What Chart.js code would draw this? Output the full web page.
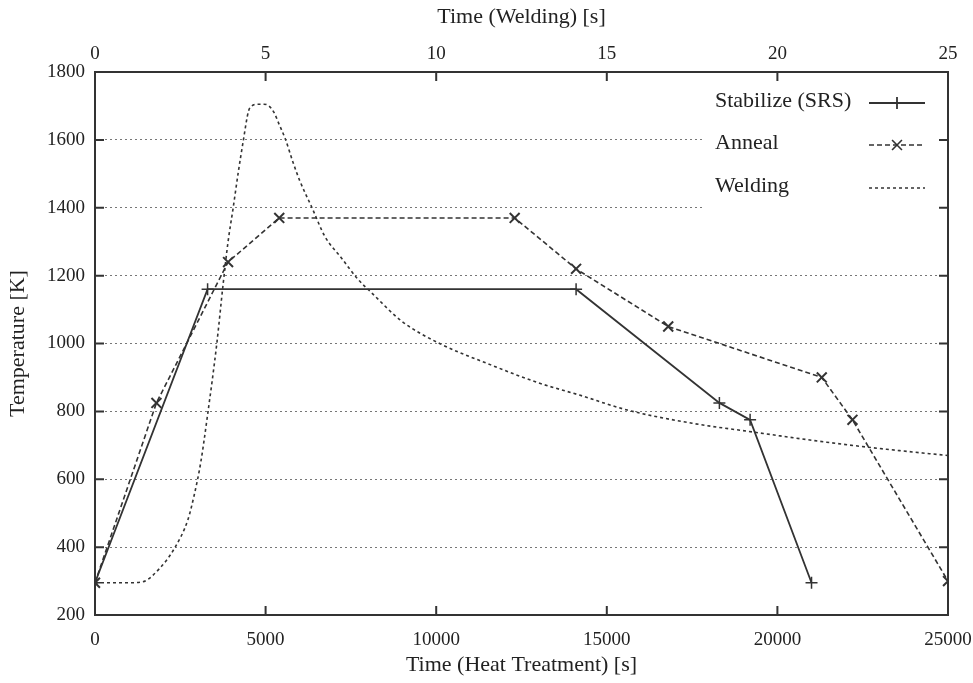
<!DOCTYPE html>
<html lang="en">
<head>
<meta charset="UTF-8">
<title>Temperature cycles</title>
<script src="https://cdn.jsdelivr.net/npm/chart.js"></script>
<style>
  html, body { margin: 0; padding: 0; background: #fff; }
</style>
</head>
<body>
<canvas id="tempChart" width="973" height="683"></canvas>
<script>
// Heat treatment cycles: time [s] on the lower axis, temperature [K]
const stabilizeTime = [0, 3300, 14100, 18300, 19200, 21000];
const stabilizeTemp = [295, 1160, 1160, 825, 775, 295];

const annealTime = [0, 1800, 3900, 5400, 12300, 14100, 16800, 21300, 22200, 25000];
const annealTemp = [295, 825, 1240, 1370, 1370, 1220, 1050, 900, 775, 300];

// Weld thermal cycle: time [s] on the upper axis
const weldTime = [0, 1.0, 1.4, 1.9, 2.35, 2.72, 2.9, 3.1, 3.3, 3.57, 3.75, 3.9, 4.05, 4.2, 4.35,
  4.5, 4.6, 4.75, 4.95, 5.1, 5.25, 5.4, 5.57, 5.8, 6.0, 6.36, 6.74, 7.2, 7.7, 8.1, 9.0,
  10.1, 11.6, 13.0, 14.2, 15.6, 17.5, 19.3, 21.0, 22.6, 24.0, 25.0];
const weldTemp = [295, 295, 298, 338, 400, 480, 550, 650, 790, 1000, 1170, 1300, 1400, 1505, 1600,
  1685, 1700, 1705, 1705, 1700, 1680, 1645, 1605, 1535, 1480, 1400, 1315, 1255, 1190, 1150, 1065,
  1000, 937, 884, 848, 804, 765, 739, 715, 695, 680, 670];

const heatTicks = [0, 5000, 10000, 15000, 20000, 25000];
const weldTicks = [0, 5, 10, 15, 20, 25];
const tempTicks = [200, 400, 600, 800, 1000, 1200, 1400, 1600, 1800];

const ink = '#333';
const serif = "'Liberation Serif', 'Times New Roman', serif";
const tickFont = { family: serif, size: 19 };
const titleFont = { family: serif, size: 22 };

const toPoints = (xs, ys) => xs.map((x, i) => ({ x: x, y: ys[i] }));
const setTicks = list => scale => { scale.ticks = list.map(v => ({ value: v })); };
// fixed band height, no extra room reserved for the end labels
const fixHeight = h => s => { s.height = h; s.paddingLeft = 0; s.paddingRight = 0; };

// gnuplot-like frame: box border, inward ticks on all four sides
const frame = {
  id: 'frame',
  beforeDatasetsDraw(chart) {
    // opaque key area, hides the grid behind it
    const a = chart.chartArea;
    const ctx = chart.ctx;
    ctx.save();
    ctx.fillStyle = '#fff';
    ctx.fillRect(a.right - 245, a.top + 4, 242, 136);
    ctx.restore();
  },
  afterDraw(chart) {
    const a = chart.chartArea;
    const ctx = chart.ctx;
    const len = 9;
    ctx.save();
    ctx.strokeStyle = ink;
    ctx.lineWidth = 2;
    ctx.beginPath();
    chart.scales.y.ticks.forEach(t => {
      const py = chart.scales.y.getPixelForValue(t.value);
      ctx.moveTo(a.left, py); ctx.lineTo(a.left + len, py);
      ctx.moveTo(a.right, py); ctx.lineTo(a.right - len, py);
    });
    chart.scales.x.ticks.forEach(t => {
      const px = chart.scales.x.getPixelForValue(t.value);
      ctx.moveTo(px, a.bottom); ctx.lineTo(px, a.bottom - len);
    });
    chart.scales.x2.ticks.forEach(t => {
      const px = chart.scales.x2.getPixelForValue(t.value);
      ctx.moveTo(px, a.top); ctx.lineTo(px, a.top + len);
    });
    ctx.stroke();
    ctx.strokeRect(a.left, a.top, a.right - a.left, a.bottom - a.top);

    // key: label on the left, line sample on the right
    const rows = [31, 73, 116];
    ctx.font = '22px ' + serif;
    ctx.textBaseline = 'middle';
    ctx.textAlign = 'left';
    chart.data.datasets.forEach((ds, i) => {
      const y = a.top + rows[i];
      const x0 = a.right - 79, x1 = a.right - 23;
      ctx.fillStyle = '#222';
      ctx.fillText(ds.label, a.right - 233, y - 2);
      ctx.strokeStyle = ds.borderColor;
      ctx.lineWidth = ds.borderWidth;
      ctx.setLineDash(ds.borderDash || []);
      ctx.beginPath();
      ctx.moveTo(x0, y); ctx.lineTo(x1, y);
      ctx.stroke();
      ctx.setLineDash([]);
      if (ds.pointRadius > 0) {
        Chart.helpers.drawPoint(ctx, {
          pointStyle: ds.pointStyle, radius: ds.pointRadius, borderWidth: ds.pointBorderWidth
        }, (x0 + x1) / 2, y);
      }
    });
    ctx.restore();
  }
};

new Chart(document.getElementById('tempChart'), {
  type: 'line',
  data: {
    datasets: [
      {
        label: 'Stabilize (SRS)',
        data: toPoints(stabilizeTime, stabilizeTemp),
        xAxisID: 'x',
        borderColor: ink,
        borderWidth: 1.8,
        pointStyle: 'cross',
        pointRadius: 6,
        pointBorderWidth: 1.5,
        pointBorderColor: ink,
        fill: false
      },
      {
        label: 'Anneal',
        data: toPoints(annealTime, annealTemp),
        xAxisID: 'x',
        borderColor: ink,
        borderWidth: 1.6,
        borderDash: [5, 3],
        pointStyle: 'crossRot',
        pointRadius: 7,
        pointBorderWidth: 2,
        pointBorderColor: ink,
        fill: false
      },
      {
        label: 'Welding',
        data: toPoints(weldTime, weldTemp),
        xAxisID: 'x2',
        borderColor: ink,
        borderWidth: 1.6,
        borderDash: [3, 3],
        pointRadius: 0,
        cubicInterpolationMode: 'monotone',
        fill: false
      }
    ]
  },
  options: {
    responsive: false,
    animation: false,
    layout: { padding: { right: 25 } },
    plugins: {
      legend: { display: false },
      tooltip: { enabled: false }
    },
    scales: {
      x: {
        type: 'linear',
        position: 'bottom',
        min: 0,
        max: 25000,
        afterBuildTicks: setTicks(heatTicks),
        afterFit: fixHeight(68),
        grid: { display: false },
        border: { display: false },
        ticks: { font: tickFont, color: '#222', padding: 6, maxRotation: 0, callback: v => String(v) },
        title: { display: true, text: 'Time (Heat Treatment) [s]', font: titleFont, color: '#222', padding: { top: 0, bottom: 5 } }
      },
      x2: {
        type: 'linear',
        position: 'top',
        min: 0,
        max: 25,
        afterBuildTicks: setTicks(weldTicks),
        afterFit: fixHeight(72),
        grid: { display: false },
        border: { display: false },
        ticks: { font: tickFont, color: '#222', padding: -1, maxRotation: 0, callback: v => String(v) },
        title: { display: true, text: 'Time (Welding) [s]', font: titleFont, color: '#222', padding: { top: 4, bottom: 0 } }
      },
      y: {
        type: 'linear',
        position: 'left',
        min: 200,
        max: 1800,
        afterBuildTicks: setTicks(tempTicks),
        afterFit: s => { s.width = 95; },
        grid: { color: '#777', lineWidth: 1, drawTicks: false },
        border: { display: false, dash: [2, 3] },
        ticks: { font: tickFont, color: '#222', padding: 10, callback: v => String(v) },
        title: { display: true, text: 'Temperature [K]', font: titleFont, color: '#222', padding: { top: 5, bottom: 0 } }
      }
    }
  },
  plugins: [frame]
});
</script>
</body>
</html>
